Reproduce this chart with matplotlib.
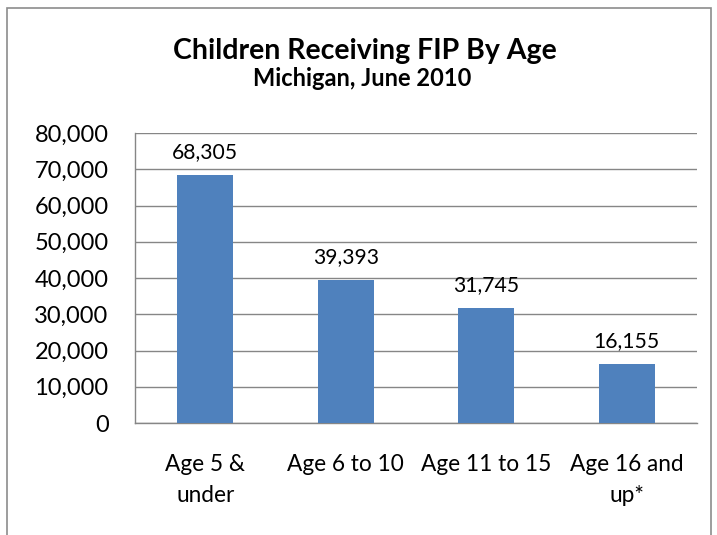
import matplotlib
matplotlib.use("Agg")
import matplotlib.pyplot as plt
from matplotlib.patches import Rectangle
from matplotlib.ticker import FuncFormatter

categories = ["Age 5 &\nunder", "Age 6 to 10", "Age 11 to 15", "Age 16 and\nup*"]
values = [68305, 39393, 31745, 16155]
yticks = [0, 10000, 20000, 30000, 40000, 50000, 60000, 70000, 80000]

plt.rcParams['font.family'] = ['Lato', 'DejaVu Sans']

W, H = 717, 535
fig = plt.figure(figsize=(W / 100, H / 100), dpi=100)
fig.patch.set_facecolor("white")

# outer chart border
fig.add_artist(Rectangle((7 / W, -0.01), (711 - 7) / W, (H - 8) / H + 0.01,
                         transform=fig.transFigure, fill=False,
                         edgecolor="#8c8c8c", linewidth=1.2))

left, right, top, bottom = 135, 697, 133, 423
ax = fig.add_axes([left / W, 1 - bottom / H, (right - left) / W, (bottom - top) / H])

x = range(len(categories))
bars = ax.bar(x, values, width=0.4, color="#4F81BD", zorder=3)
ax.set_xlim(-0.5, len(categories) - 0.5)
ax.set_ylim(0, 80000)
ax.set_yticks(yticks)
ax.yaxis.set_major_formatter(FuncFormatter(lambda v, p: f"{int(v):,}"))
ax.grid(axis="y", color="#868686", linewidth=1.0, zorder=0)
ax.set_xticks(list(x))
ax.set_xticklabels(categories, fontsize=16.3, linespacing=1.6)
ax.tick_params(axis="y", labelsize=17, length=0, pad=19)
ax.tick_params(axis="x", length=0, pad=22)
for s in ["top", "right"]:
    ax.spines[s].set_visible(False)
for s in ["left", "bottom"]:
    ax.spines[s].set_color("#868686")
    ax.spines[s].set_linewidth(1.0)

for xi, v in zip(x, values):
    ax.annotate(f"{v:,}", (xi, v), xytext=(0, 9.5), textcoords="offset points",
                ha="center", va="bottom", fontsize=15.2)

fig.text(365 / W, 1 - 51 / H, "Children Receiving FIP By Age", ha="center",
         va="center", fontsize=20.5, fontweight="bold")
fig.text(362 / W, 1 - 79 / H, "Michigan, June 2010", ha="center",
         va="center", fontsize=17, fontweight="bold")

fig.savefig("out.png", dpi=100)
